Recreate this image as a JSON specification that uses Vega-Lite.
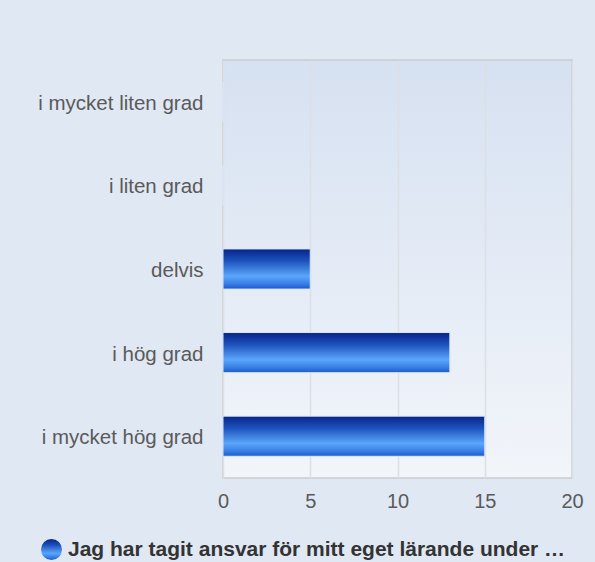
{
  "$schema": "https://vega.github.io/schema/vega-lite/v6.json",
  "autosize": {"type": "none"},
  "width": 349,
  "height": 418,
  "padding": {"left": 223, "top": 60, "right": 23, "bottom": 84},
  "background": "#e0e8f3",
  "data": {
    "values": [
      {"kategori": "i mycket liten grad", "antal": 0, "serie": "Jag har tagit ansvar för mitt eget lärande under …"},
      {"kategori": "i liten grad", "antal": 0, "serie": "Jag har tagit ansvar för mitt eget lärande under …"},
      {"kategori": "delvis", "antal": 5, "serie": "Jag har tagit ansvar för mitt eget lärande under …"},
      {"kategori": "i hög grad", "antal": 13, "serie": "Jag har tagit ansvar för mitt eget lärande under …"},
      {"kategori": "i mycket hög grad", "antal": 15, "serie": "Jag har tagit ansvar för mitt eget lärande under …"}
    ]
  },
  "mark": {
    "type": "bar",
    "stroke": "#dbe6f7",
    "strokeWidth": 1,
    "color": {
      "gradient": "linear",
      "x1": 0, "y1": 0, "x2": 0, "y2": 1,
      "stops": [
        {"offset": 0, "color": "#062488"},
        {"offset": 0.3, "color": "#1d52bd"},
        {"offset": 0.68, "color": "#5ba6fb"},
        {"offset": 0.86, "color": "#3a80e6"},
        {"offset": 1, "color": "#195bcb"}
      ]
    }
  },
  "encoding": {
    "y": {
      "field": "kategori",
      "type": "nominal",
      "sort": ["i mycket liten grad", "i liten grad", "delvis", "i hög grad", "i mycket hög grad"],
      "scale": {"paddingInner": 0.52, "paddingOuter": 0.26},
      "axis": {
        "title": null,
        "ticks": false,
        "domain": false,
        "grid": false,
        "labelFont": "Liberation Sans",
        "labelFontSize": 20.5,
        "labelColor": "#5a5a5a",
        "labelPadding": 20,
        "labelOffset": 2,
        "labelLimit": 300
      }
    },
    "x": {
      "field": "antal",
      "type": "quantitative",
      "scale": {"domain": [0, 20]},
      "axis": {
        "title": null,
        "values": [0, 5, 10, 15, 20],
        "ticks": false,
        "domain": false,
        "grid": true,
        "gridColor": "#dcdfe4",
        "gridWidth": 1.5,
        "labelFlush": false,
        "labelFont": "Liberation Sans",
        "labelFontSize": 20,
        "labelColor": "#5a5a5a",
        "labelPadding": 13
      }
    },
    "opacity": {
      "field": "serie",
      "type": "nominal",
      "scale": {"range": [1]},
      "legend": {
        "title": null,
        "orient": "none",
        "legendX": -182,
        "legendY": 479,
        "symbolType": "circle",
        "symbolSize": 441,
        "symbolStrokeWidth": 0,
        "labelFont": "Liberation Sans",
        "labelFontSize": 21,
        "labelFontWeight": "bold",
        "labelColor": "#333333",
        "labelOffset": 6,
        "labelLimit": 600,
        "encode": {
          "symbols": {
            "update": {
              "fill": {
                "value": {
                  "gradient": "linear",
                  "x1": 0, "y1": 0, "x2": 1, "y2": 0,
                  "stops": [
                    {"offset": 0, "color": "#0a35a8"},
                    {"offset": 0.35, "color": "#4f9af5"},
                    {"offset": 1, "color": "#0b3aa8"}
                  ]
                }
              },
              "opacity": {"value": 1}
            }
          }
        }
      }
    }
  },
  "config": {
    "view": {
      "stroke": "#c9cbd0",
      "strokeWidth": 1.5,
      "fill": {
        "gradient": "linear",
        "x1": 0, "y1": 0, "x2": 0, "y2": 1,
        "stops": [
          {"offset": 0, "color": "#d6e1f1"},
          {"offset": 1, "color": "#f2f5fa"}
        ]
      }
    }
  }
}
